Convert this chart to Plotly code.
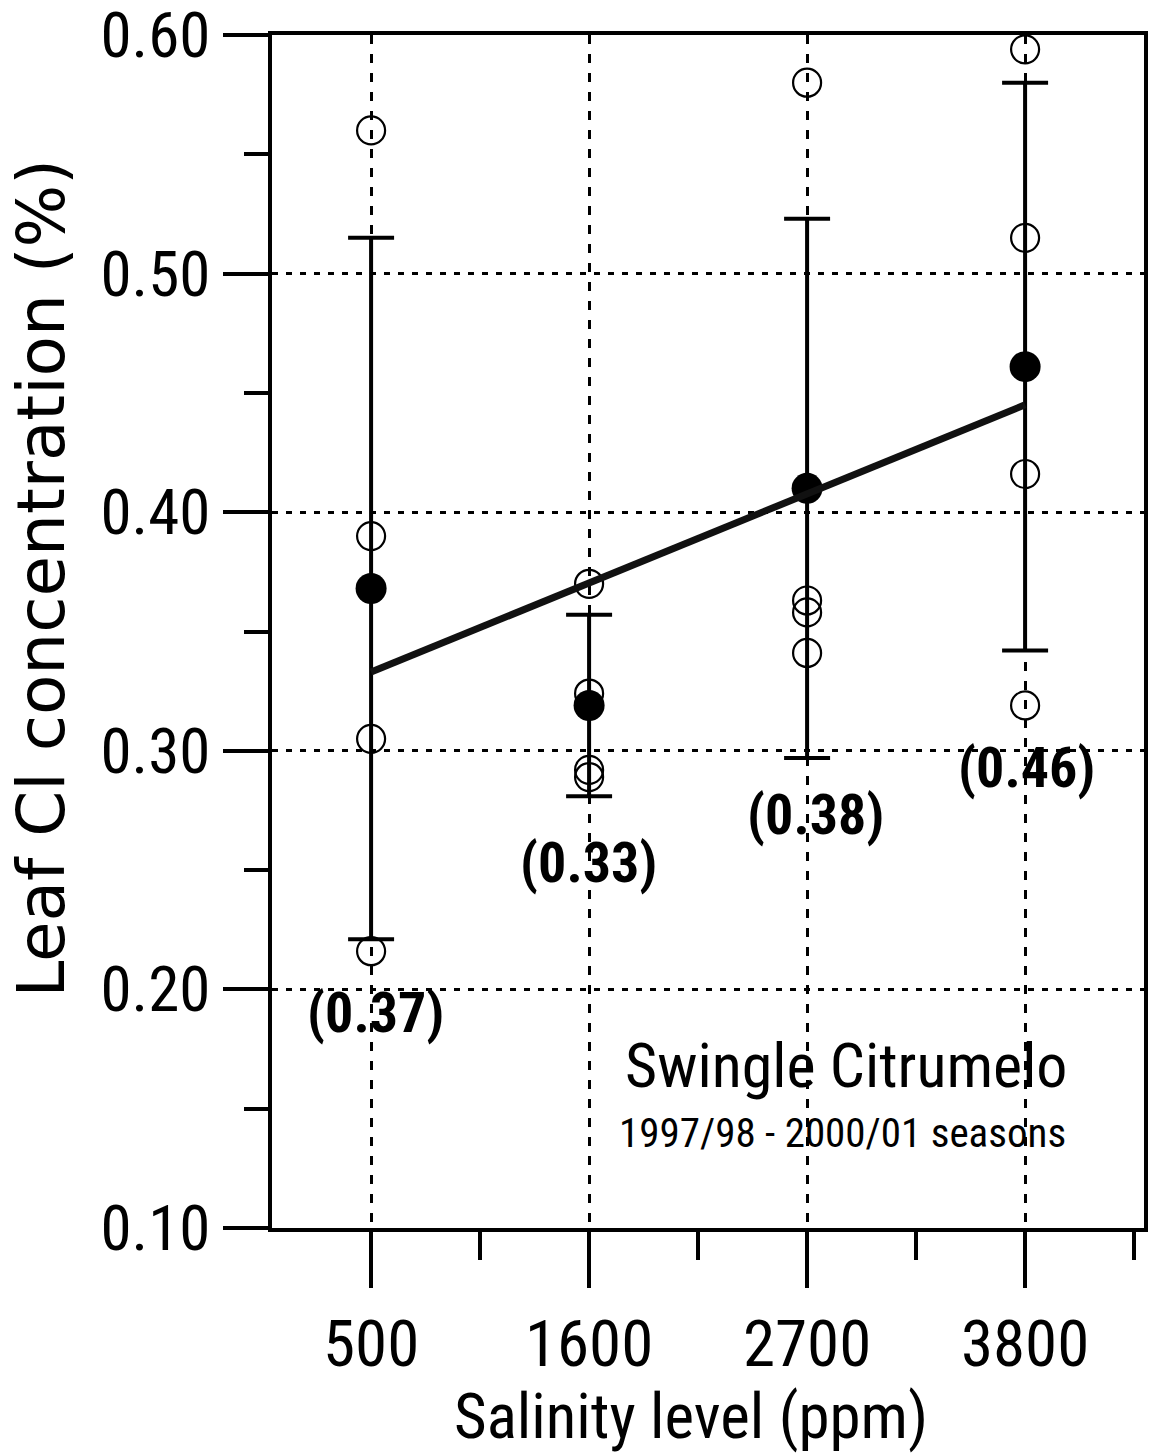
import plotly.graph_objects as go

# Salinity treatments (ppm)
salinity = [500, 1600, 2700, 3800]

# Individual seasonal leaf Cl readings (%) for each salinity level
cl_500 = [0.560, 0.390, 0.305, 0.216]
cl_1600 = [0.370, 0.324, 0.292, 0.289]
cl_2700 = [0.580, 0.363, 0.358, 0.341]
cl_3800 = [0.594, 0.515, 0.416, 0.319]

# Seasonal means and standard deviations
mean_cl = [0.368, 0.319, 0.410, 0.461]
sd_cl = [0.147, 0.038, 0.113, 0.119]

# Linear trend through the means
trend_x = [500, 3800]
trend_y = [0.333, 0.445]

# Bracketed values printed under each level
label_text = ["(0.37)", "(0.33)", "(0.38)", "(0.46)"]
label_x = [520, 1595, 2740, 3805]
label_y = [0.190, 0.253, 0.273, 0.293]

y_ticks = [0.10, 0.20, 0.30, 0.40, 0.50, 0.60]
x_minor_ticks = [1050, 2150, 3250, 4350]

NARROW = "Roboto Condensed, Liberation Sans, Arial, sans-serif"
WIDE = "DejaVu Sans, Liberation Sans, Arial, sans-serif"

obs_x = []
obs_y = []
for level, vals in zip(salinity, [cl_500, cl_1600, cl_2700, cl_3800]):
    obs_x += [level] * len(vals)
    obs_y += vals

fig = go.Figure()

# Individual seasons: open circles
fig.add_trace(go.Scatter(
    x=obs_x, y=obs_y, mode="markers",
    marker=dict(symbol="circle-open", size=28, color="black", line=dict(width=2.2)),
    showlegend=False, cliponaxis=False,
))

# Means with +/- SD bars
fig.add_trace(go.Scatter(
    x=salinity, y=mean_cl, mode="markers",
    marker=dict(symbol="circle", size=31, color="black"),
    error_y=dict(type="data", array=sd_cl, visible=True, color="black",
                 thickness=4, width=23),
    showlegend=False,
))

# Regression line
fig.add_trace(go.Scatter(
    x=trend_x, y=trend_y, mode="lines",
    line=dict(color="#111111", width=7),
    showlegend=False,
))

# Value labels
for tx, lx, ly in zip(label_text, label_x, label_y):
    fig.add_annotation(x=lx, y=ly, text=tx, showarrow=False,
                       font=dict(family=NARROW, size=56, color="black", weight="bold"),
                       xanchor="center", yanchor="middle")

fig.add_annotation(x=2896, y=0.168, text="Swingle Citrumelo", showarrow=False,
                   font=dict(family=NARROW, size=62, color="black"),
                   xanchor="center", yanchor="middle")
fig.add_annotation(x=2881, y=0.140, text="1997/98 - 2000/01 seasons", showarrow=False,
                   font=dict(family=NARROW, size=41, color="black"),
                   xanchor="center", yanchor="middle")

# Axis titles
fig.add_annotation(xref="paper", yref="paper", x=-0.264, y=0.545,
                   text="Leaf Cl concentration (%)", textangle=-90, showarrow=False,
                   font=dict(family=WIDE, size=66, color="black"),
                   xanchor="center", yanchor="middle")
fig.add_annotation(xref="paper", yref="paper", x=0.4805, y=-0.158,
                   text="Salinity level (ppm)", showarrow=False,
                   font=dict(family=NARROW, size=63, color="black"),
                   xanchor="center", yanchor="middle")

fig.update_xaxes(
    range=[0, 4400], tickmode="array", tickvals=salinity,
    ticktext=[str(s) for s in salinity],
    ticks="outside", ticklen=56, tickwidth=4, tickcolor="black",
    showline=True, linewidth=4, linecolor="black", mirror=True,
    showgrid=True, gridcolor="black", gridwidth=2.5, griddash="9px,10px",
    zeroline=False, automargin=False,
    tickfont=dict(family=NARROW, size=65, color="black"),
    minor=dict(tickmode="array", tickvals=x_minor_ticks, ticks="outside",
               ticklen=28, tickwidth=4, tickcolor="black", showgrid=False),
)
fig.update_yaxes(
    range=[0.1, 0.6], tickmode="array", tickvals=y_ticks,
    ticktext=[f"{v:.2f}" for v in y_ticks],
    ticks="outside", ticklen=45, tickwidth=4, tickcolor="black",
    showline=True, linewidth=4, linecolor="black", mirror=True,
    showgrid=True, gridcolor="black", gridwidth=2.5, griddash="6px,8px",
    zeroline=False, automargin=False,
    tickfont=dict(family=NARROW, size=63, color="black"),
    ticklabeloverflow="allow",
    minor=dict(dtick=0.05, tick0=0.1, ticks="outside",
               ticklen=24, tickwidth=4, tickcolor="black", showgrid=False),
)

fig.update_layout(
    width=1151, height=1455,
    margin=dict(l=272, r=7, t=35, b=227),
    paper_bgcolor="white", plot_bgcolor="white",
    showlegend=False,
)

fig.write_html("out.html")
